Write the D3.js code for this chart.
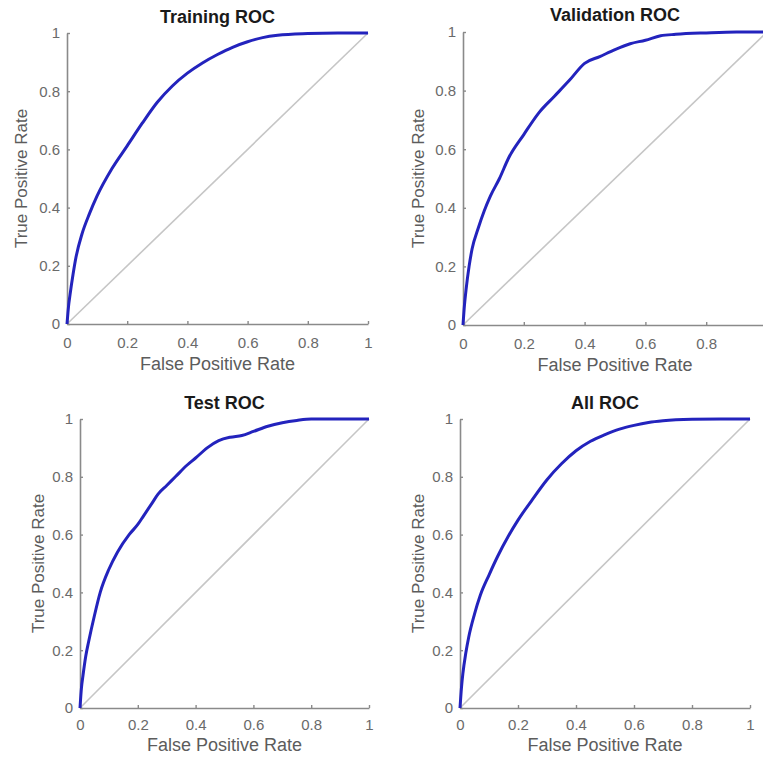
<!DOCTYPE html>
<html>
<head>
<meta charset="utf-8">
<script src="https://cdn.jsdelivr.net/npm/d3@7"></script>
<style>
  html, body { margin: 0; padding: 0; background: #fff; }
  svg { display: block; font-family: "Liberation Sans", Arial, sans-serif; }
  .domain { stroke: #8a8a8a; stroke-width: 1.6px; }
  .tick line { stroke: #8a8a8a; stroke-width: 1.4px; }
  .tick text { fill: #6a6a6a; font-size: 15px; }
</style>
</head>
<body>
<div id="container"></div>
<script>
const WIDTH = 763,
  HEIGHT = 761;

// data
const TICKS = [0, 0.2, 0.4, 0.6, 0.8, 1];
const TITLES = ["Training ROC", "Validation ROC", "Test ROC", "All ROC"];
const X_LABEL = "False Positive Rate",
  Y_LABEL = "True Positive Rate";

const trainFPR = [0, 0.005, 0.01, 0.02, 0.03, 0.05, 0.075, 0.1, 0.15, 0.2, 0.25, 0.3, 0.35, 0.4, 0.45, 0.5, 0.55, 0.6, 0.65, 0.7, 0.8, 0.9, 1];
const trainTPR = [0, 0.06, 0.1, 0.17, 0.23, 0.31, 0.38, 0.44, 0.535, 0.612, 0.69, 0.762, 0.818, 0.862, 0.897, 0.926, 0.951, 0.97, 0.984, 0.992, 0.998, 1, 1];

const valFPR = [0, 0.005, 0.01, 0.02, 0.03, 0.05, 0.07, 0.09, 0.12, 0.15, 0.2, 0.25, 0.3, 0.35, 0.4, 0.45, 0.5, 0.55, 0.6, 0.65, 0.7, 0.8, 0.9, 1];
const valTPR = [0, 0.07, 0.12, 0.2, 0.26, 0.33, 0.39, 0.44, 0.5, 0.57, 0.65, 0.725, 0.78, 0.835, 0.893, 0.916, 0.94, 0.96, 0.972, 0.987, 0.992, 0.997, 1, 1];

const testFPR = [0, 0.005, 0.01, 0.02, 0.03, 0.05, 0.07, 0.1, 0.13, 0.17, 0.2, 0.22, 0.25, 0.27, 0.3, 0.33, 0.37, 0.4, 0.44, 0.48, 0.52, 0.56, 0.6, 0.65, 0.7, 0.75, 0.8, 1];
const testTPR = [0, 0.07, 0.11, 0.18, 0.23, 0.32, 0.4, 0.48, 0.54, 0.6, 0.635, 0.665, 0.71, 0.74, 0.77, 0.8, 0.84, 0.865, 0.9, 0.925, 0.937, 0.943, 0.957, 0.975, 0.987, 0.995, 1, 1];

const allFPR = [0, 0.005, 0.01, 0.02, 0.03, 0.05, 0.07, 0.1, 0.13, 0.167, 0.2, 0.25, 0.3, 0.35, 0.4, 0.45, 0.5, 0.55, 0.6, 0.65, 0.7, 0.8, 0.9, 1];
const allTPR = [0, 0.07, 0.12, 0.19, 0.245, 0.325, 0.39, 0.46, 0.525, 0.595, 0.65, 0.722, 0.79, 0.845, 0.89, 0.923, 0.946, 0.965, 0.978, 0.988, 0.994, 0.999, 1, 1];

const SERIES = [[trainFPR, trainTPR], [valFPR, valTPR], [testFPR, testTPR], [allFPR, allTPR]];

// panel boxes: [left, right], [bottom, top], plus label offsets
const PANELS = [
  { x: [67, 368], y: [324, 33], titleY: 23, yLabelX: 21, tickPad: 13, xLabelDy: 46 },
  { x: [463, 767], y: [325, 32], titleY: 21, yLabelX: 418, tickPad: 13, xLabelDy: 46 },
  { x: [80, 369], y: [708, 419], titleY: 409, yLabelX: 38, tickPad: 11, xLabelDy: 43 },
  { x: [460, 750], y: [708, 419], titleY: 409, yLabelX: 418, tickPad: 11, xLabelDy: 43 }
];

const svg = d3.select("#container")
  .append("svg")
  .attr("width", WIDTH)
  .attr("height", HEIGHT)

PANELS.forEach((p, i) => {
  const xScale = d3.scaleLinear().domain([0, 1]).range(p.x)
  const yScale = d3.scaleLinear().domain([0, 1]).range(p.y)
  const g = svg.append("g")

  // diagonal
  g.append("line")
    .attr("x1", xScale(0)).attr("y1", yScale(0))
    .attr("x2", xScale(1)).attr("y2", yScale(1))
    .style("stroke", "#c6c6c6")
    .style("stroke-width", 1.6)

  // axes, ticks point inwards like matlab
  g.append("g")
    .attr("class", "x-axis")
    .attr("transform", `translate(0, ${yScale(0)})`)
    .call(d3.axisBottom(xScale).tickValues(TICKS).tickFormat(d3.format("~g"))
      .tickSizeInner(-3).tickSizeOuter(0).tickPadding(p.tickPad))
    .call(a => a.selectAll("text").attr("font-family", null).attr("font-size", null))

  g.append("g")
    .attr("class", "y-axis")
    .attr("transform", `translate(${xScale(0)}, 0)`)
    .call(d3.axisLeft(yScale).tickValues(TICKS).tickFormat(d3.format("~g"))
      .tickSizeInner(-3).tickSizeOuter(0).tickPadding(7))
    .call(a => a.selectAll("text").attr("font-family", null).attr("font-size", null))

  // roc curve
  const [fpr, tpr] = SERIES[i];
  const line = d3.line()
    .x(d => xScale(d[0]))
    .y(d => yScale(d[1]))
    .curve(d3.curveMonotoneX)

  g.append("path")
    .datum(d3.zip(fpr, tpr))
    .attr("d", line)
    .style("fill", "none")
    .style("stroke", "#2323bd")
    .style("stroke-width", 3)
    .style("stroke-linejoin", "round")

  // texts
  const cx = (p.x[0] + p.x[1]) / 2,
    cy = (p.y[0] + p.y[1]) / 2;

  g.append("text")
    .attr("x", cx)
    .attr("y", p.titleY)
    .attr("text-anchor", "middle")
    .style("font-size", "18px")
    .style("font-weight", "bold")
    .style("fill", "#1a1a1a")
    .text(TITLES[i])

  g.append("text")
    .attr("x", cx)
    .attr("y", yScale(0) + p.xLabelDy)
    .attr("text-anchor", "middle")
    .style("font-size", "18px")
    .style("fill", "#5c5c5c")
    .text(X_LABEL)

  g.append("text")
    .attr("transform", `translate(${p.yLabelX}, ${cy}) rotate(-90)`)
    .attr("text-anchor", "middle")
    .attr("dy", "0.35em")
    .style("font-size", "17px")
    .style("fill", "#5c5c5c")
    .text(Y_LABEL)
})
</script>
</body>
</html>
